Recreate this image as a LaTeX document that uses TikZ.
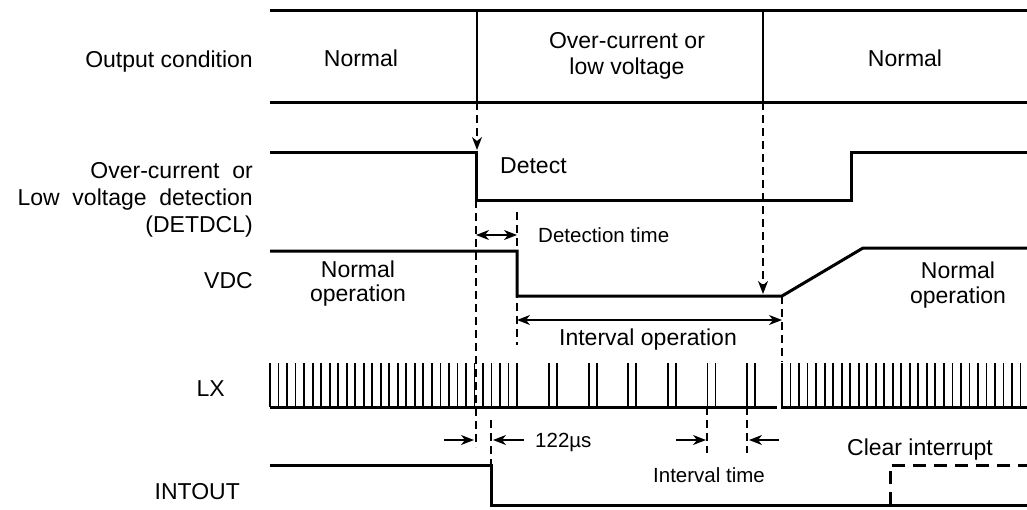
\documentclass[tikz,border=0pt]{standalone}
\usepackage{fontspec}
\setmainfont{Liberation Sans}
\usetikzlibrary{arrows.meta}
\begin{document}
\begin{tikzpicture}[x=1pt,y=-1pt,>={Stealth[length=13pt,width=10pt,inset=4pt]},
  sig/.style={line width=3pt,line join=miter},
  guide/.style={line width=1.3pt,dash pattern=on 8pt off 5pt},
  span/.style={line width=1.5pt},
  lbl/.style={font=\fontsize{23}{27}\selectfont,inner sep=0pt},
  sml/.style={font=\fontsize{20.5}{24}\selectfont,inner sep=0pt}]
\useasboundingbox (0,0) rectangle (1027,509);
\def\xl{270}    % left end of the traces
\def\xr{1027}   % right end of the traces
\def\tA{476}    % detection
\def\tB{517}    % VDC drops
\def\tC{763}    % condition clears
\def\tD{782}    % VDC ramp starts
\def\pw{8.52}   % LX pulse pitch
% output condition row
\draw[sig] (\xl,10) -- (\xr,10);
\draw[sig] (\xl,102) -- (\xr,102);
\draw[span] (477,10) -- (477,102);
\draw[span] (\tC,10) -- (\tC,102);
\node[lbl,anchor=base east] (oc) at (253,67) {Output condition};
\node[lbl,anchor=base] (ocA) at (361,66) {Normal};
\node[lbl,anchor=base,align=center] (ocB) at (627,74) {Over-current or\\[-1pt]low voltage};
\node[lbl,anchor=base] (ocC) at (905,66) {Normal};
% DETDCL (base anchor sits on the last line)
\draw[sig] (\xl,152) -- (\tA,152) -- (\tA,200) -- (851,200) -- (851,152) -- (\xr,152);
\node[lbl,anchor=base east,align=right] (det) at (253,232) {Over-current~ or~\\Low~ voltage~ detection\\(DETDCL)};
\node[lbl,anchor=base west] (detect) at (500,173) {Detect};
\draw[guide,->] (477,102) -- (477,150);
% VDC
\draw[sig] (\xl,251) -- (\tB,251) -- (\tB,296) -- (\tD,296) -- (863,248) -- (\xr,248);
\node[lbl,anchor=base east] (vdc) at (253,288) {VDC};
\node[lbl,anchor=base,align=center] (nopL) at (358,301) {Normal\\[-3pt]operation};
\node[lbl,anchor=base,align=center] (nopR) at (958,303) {Normal\\[-2pt]operation};
\draw[guide,->] (\tC,102) -- (\tC,294);
% guide lines
\draw[guide] (\tA,200) -- (\tA,447);
\draw[guide] (\tB,212) -- (\tB,345);
\draw[guide] (\tD,296) -- (\tD,362);
% detection time
\coordinate (dtL) at (\tA,235);
\coordinate (dtR) at (\tB,235);
\draw[span,<->] (dtL) -- (dtR);
\node[sml,anchor=base west] (dtime) at (538,242) {Detection time};
% interval operation
\coordinate (ioL) at (\tB,320);
\coordinate (ioR) at (\tD,320);
\draw[span,<->] (ioL) -- (ioR);
\node[lbl,anchor=base] (iop) at (648,345) {Interval operation};
% LX
\node[lbl,anchor=base east] (lx) at (225,396) {LX};
\draw[sig] (\xl,407) -- (777,407);
\draw[sig] (781,407) -- (\xr,407);
\foreach \i in {0,...,29}{\draw[line width=1.8pt] ({\xl+\i*\pw},407) -- ++(0,-44);}
\foreach \i in {0,...,5}{%
  \draw[line width=1.8pt] ({549+\i*39.6},407) -- ++(0,-44);
  \draw[line width=1.8pt] ({557+\i*39.6},407) -- ++(0,-44);
}
\foreach \i in {0,...,28}{\draw[line width=1.8pt] ({\tD+\i*\pw},407) -- ++(0,-44);}
% 122us
\draw[guide] (491,420) -- (491,465);
\coordinate (usL) at (474,440);
\coordinate (usR) at (493,440);
\draw[span,<-] (usL) -- ++(-30,0);
\draw[span,<-] (usR) -- ++(31,0);
\node[sml,anchor=base west] (us) at (535,447) {122µs};
% interval time
\draw[guide] (707,407) -- (707,453);
\draw[guide] (747,407) -- (747,453);
\coordinate (itL) at (706,440);
\coordinate (itR) at (749,440);
\draw[span,<-] (itL) -- ++(-30,0);
\draw[span,<-] (itR) -- ++(30,0);
\node[sml,anchor=base] (itime) at (709,482) {Interval time};
% INTOUT
\node[lbl,anchor=base east] (int) at (240,499) {INTOUT};
\draw[sig] (\xl,465) -- (491,465) -- (491,505) -- (\xr,505);
\draw[sig,dash pattern=on 13pt off 8pt] (890,505) -- (890,465) -- (\xr,465);
\node[lbl,anchor=base] (clr) at (920,455) {Clear interrupt};
\end{tikzpicture}
\end{document}
